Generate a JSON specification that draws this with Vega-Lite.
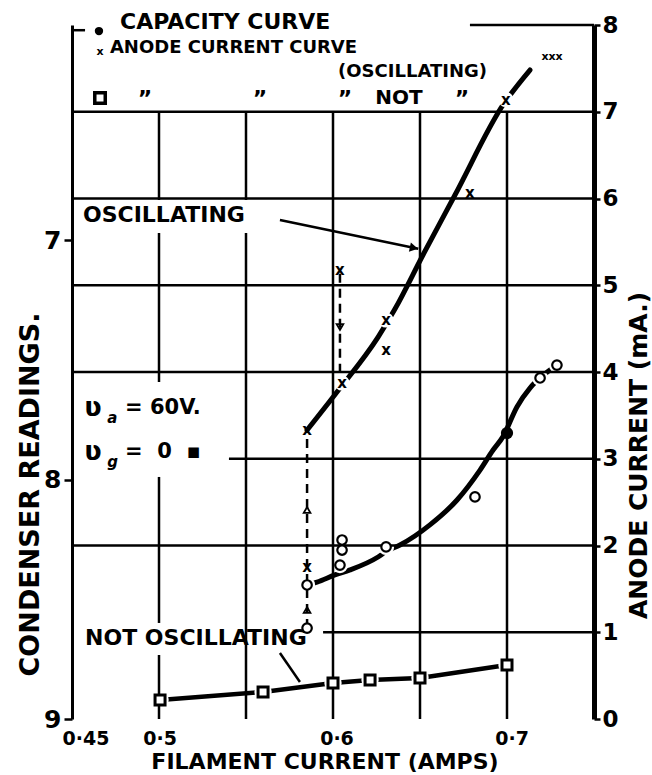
{
  "$schema": "https://vega.github.io/schema/vega-lite/v6.json",
  "width": 522,
  "height": 694,
  "autosize": {"type": "none"},
  "padding": {"left": 72, "top": 25, "right": 58, "bottom": 56},
  "background": "white",
  "config": {
    "view": {"stroke": null},
    "font": "DejaVu Sans",
    "axis": {"labelFont": "DejaVu Sans", "titleFont": "DejaVu Sans", "labelColor": "black", "titleColor": "black", "domainColor": "black", "tickColor": "black", "grid": false, "labelFontWeight": "bold", "titleFontWeight": "bold"}
  },
  "datasets": {
    "capLine": [
      {"x": 0.5851, "y": 8.44}, {"x": 0.5908, "y": 8.428}, {"x": 0.6011, "y": 8.398}, {"x": 0.6098, "y": 8.377},
      {"x": 0.6259, "y": 8.323}, {"x": 0.6305, "y": 8.3}, {"x": 0.6385, "y": 8.273}, {"x": 0.6557, "y": 8.189},
      {"x": 0.6713, "y": 8.085}, {"x": 0.6845, "y": 7.96}, {"x": 0.692, "y": 7.876}, {"x": 0.6977, "y": 7.82},
      {"x": 0.7057, "y": 7.696}, {"x": 0.7132, "y": 7.617}, {"x": 0.719, "y": 7.575}, {"x": 0.7247, "y": 7.542},
      {"x": 0.7287, "y": 7.521}
    ],
    "capPts": [
      {"x": 0.5851, "y": 8.62, "k": "n"}, {"x": 0.5851, "y": 8.44, "k": "o"}, {"x": 0.604, "y": 8.357, "k": "o"},
      {"x": 0.6052, "y": 8.294, "k": "o"}, {"x": 0.6052, "y": 8.252, "k": "o"}, {"x": 0.6305, "y": 8.281, "k": "o"},
      {"x": 0.6816, "y": 8.072, "k": "n"}, {"x": 0.7, "y": 7.805, "k": "f"}, {"x": 0.719, "y": 7.575, "k": "o"},
      {"x": 0.7287, "y": 7.521, "k": "o"}
    ],
    "oscLine": [
      {"x": 0.5851, "y": 3.331}, {"x": 0.6023, "y": 3.77}, {"x": 0.6259, "y": 4.403}, {"x": 0.6356, "y": 4.726},
      {"x": 0.6517, "y": 5.349}, {"x": 0.6701, "y": 6.04}, {"x": 0.6977, "y": 7.078}, {"x": 0.7132, "y": 7.481}
    ],
    "oscX": [
      {"x": 0.5851, "y": 3.331, "h": 0}, {"x": 0.6052, "y": 3.873, "h": 1}, {"x": 0.6305, "y": 4.599, "h": 1},
      {"x": 0.6305, "y": 4.254, "h": 0}, {"x": 0.6787, "y": 6.063, "h": 0}, {"x": 0.6994, "y": 7.141, "h": 1},
      {"x": 0.5851, "y": 1.752, "h": 0}, {"x": 0.604, "y": 5.176, "h": 0}
    ],
    "sq": [
      {"x": 0.5006, "y": 0.219}, {"x": 0.5598, "y": 0.311}, {"x": 0.6, "y": 0.415},
      {"x": 0.6213, "y": 0.45}, {"x": 0.65, "y": 0.473}, {"x": 0.7, "y": 0.622}
    ],
    "grid": [
      {"x": 0.45, "x2": 0.75, "y": 7, "y2": 7}, {"x": 0.45, "x2": 0.75, "y": 6, "y2": 6},
      {"x": 0.45, "x2": 0.75, "y": 5, "y2": 5}, {"x": 0.45, "x2": 0.75, "y": 4, "y2": 4},
      {"x": 0.5402, "x2": 0.75, "y": 3, "y2": 3}, {"x": 0.45, "x2": 0.75, "y": 2, "y2": 2},
      {"x": 0.5943, "x2": 0.75, "y": 1, "y2": 1}, {"x": 0.6787, "x2": 0.75, "y": 8, "y2": 8},
      {"x": 0.45, "x2": 0.4575, "y": 7.94, "y2": 7.94},
      {"x": 0.5, "x2": 0.5, "y": 7, "y2": 5.983}, {"x": 0.5, "x2": 0.5, "y": 5.602, "y2": 3.885},
      {"x": 0.5, "x2": 0.5, "y": 2.79, "y2": 1.107}, {"x": 0.5, "x2": 0.5, "y": 0.738, "y2": 0},
      {"x": 0.55, "x2": 0.55, "y": 7, "y2": 5.983}, {"x": 0.55, "x2": 0.55, "y": 5.602, "y2": 0},
      {"x": 0.6, "x2": 0.6, "y": 7, "y2": 0}, {"x": 0.65, "x2": 0.65, "y": 7, "y2": 0},
      {"x": 0.7, "x2": 0.7, "y": 7, "y2": 0}
    ],
    "vdash": [
      {"x": 0.5851, "x2": 0.5851, "y": 1.049, "y2": 3.331},
      {"x": 0.604, "x2": 0.604, "y": 3.99, "y2": 5.176}
    ],
    "pointers": [
      {"x": 0.5695, "x2": 0.649, "y": 5.752, "y2": 5.42},
      {"x": 0.5695, "x2": 0.581, "y": 0.761, "y2": 0.427}
    ],
    "arrUp": [{"x": 0.5851, "y": 2.409}, {"x": 0.5851, "y": 1.256}],
    "arrDown": [{"x": 0.604, "y": 4.519}],
    "arrHead": [{"x": 0.6465, "y": 5.43}],
    "bullet": [{"x": 0.4655, "y": 7.93}],
    "legSq": [{"x": 0.4661, "y": 7.159}],
    "tLeg1": [{"x": 0.4776, "y": 8.03, "t": "CAPACITY CURVE"}],
    "tLeg2": [
      {"x": 0.4718, "y": 7.73, "t": "ANODE CURRENT CURVE"},
      {"x": 0.6029, "y": 7.458, "t": "(OSCILLATING)"}
    ],
    "tSmallX": [{"x": 0.4661, "y": 7.689, "t": "x"}, {"x": 0.7259, "y": 7.631, "t": "xxx"}],
    "tNot": [{"x": 0.6379, "y": 7.159, "t": "NOT"}],
    "tDitto": [
      {"x": 0.492, "y": 7.15, "t": "\u201d"}, {"x": 0.558, "y": 7.15, "t": "\u201d"},
      {"x": 0.6069, "y": 7.15, "t": "\u201d"}, {"x": 0.6741, "y": 7.15, "t": "\u201d"}
    ],
    "tBig": [
      {"x": 0.4563, "y": 5.81, "t": "OSCILLATING"},
      {"x": 0.4575, "y": 0.934, "t": "NOT OSCILLATING"}
    ],
    "tV": [{"x": 0.4621, "y": 3.585, "t": "\u028b"}, {"x": 0.4621, "y": 3.078, "t": "\u028b"}],
    "tSub": [{"x": 0.4702, "y": 3.47, "t": "a"}, {"x": 0.4702, "y": 2.96, "t": "g"}],
    "tEq": [
      {"x": 0.4805, "y": 3.585, "t": "= 60V."},
      {"x": 0.4805, "y": 3.078, "t": "=\u00a0\u00a00\u00a0\u00a0\u25aa"}
    ],
    "xLab": [
      {"x": 0.458, "y": -0.23, "t": "0\u00b745"},
      {"x": 0.5006, "y": -0.23, "t": "0\u00b75"},
      {"x": 0.6023, "y": -0.23, "t": "0\u00b76"},
      {"x": 0.7029, "y": -0.23, "t": "0\u00b77"}
    ],
    "xTitle": [{"x": 0.5954, "y": -0.496, "t": "FILAMENT CURRENT (AMPS)"}]
  },
  "resolve": {"scale": {"y": "independent"}},
  "layer": [
    {
      "encoding": {
        "x": {"field": "x", "type": "quantitative", "scale": {"domain": [0.45, 0.75], "nice": false, "zero": false},
          "axis": {"orient": "bottom", "values": [0.45, 0.5, 0.6, 0.7], "tickSize": 0, "tickWidth": 0, "domainWidth": 3, "labels": false, "title": null}},
        "y": {"field": "y", "type": "quantitative", "scale": {"domain": [6.1, 9], "nice": false, "zero": false, "reverse": true},
          "axis": {"orient": "left", "values": [7, 8, 9], "format": "d", "tickSize": 8, "tickWidth": 2.5, "domainWidth": 3, "labelFontSize": 25, "labelPadding": 3, "title": "CONDENSER READINGS.", "titleFontSize": 27, "titleAngle": 270, "titleX": -42, "titleY": 469, "titleAlign": "center", "titleBaseline": "middle"}}
      },
      "layer": [
        {"data": {"name": "capLine"}, "mark": {"type": "line", "interpolate": "monotone", "color": "black", "strokeWidth": 5, "strokeCap": "round"}},
        {"data": {"name": "capPts"}, "transform": [{"filter": "datum.k == 'o'"}], "mark": {"type": "point", "shape": "circle", "filled": true, "color": "white", "opacity": 1, "size": 260}}
      ]
    },
    {
      "encoding": {
        "x": {"field": "x", "type": "quantitative", "scale": {"domain": [0.45, 0.75], "nice": false, "zero": false}, "axis": null},
        "y": {"field": "y", "type": "quantitative", "scale": {"domain": [0, 8], "nice": false, "zero": false},
          "axis": {"orient": "right", "values": [0, 1, 2, 3, 4, 5, 6, 7, 8], "tickSize": 6, "tickWidth": 2.5, "domainWidth": 5, "labelFontSize": 23, "labelPadding": 2, "title": "ANODE CURRENT (mA.)", "titleFontSize": 25, "titleAngle": 270, "titleX": 44, "titleY": 430, "titleAlign": "center", "titleBaseline": "middle"}}
      },
      "layer": [
        {"data": {"name": "oscLine"}, "mark": {"type": "line", "interpolate": "monotone", "color": "black", "strokeWidth": 5, "strokeCap": "round"}},
        {"data": {"name": "sq"}, "mark": {"type": "line", "color": "black", "strokeWidth": 4.5}},
        {"data": {"name": "oscX"}, "transform": [{"filter": "datum.h == 1"}], "mark": {"type": "point", "shape": "circle", "filled": true, "color": "white", "opacity": 1, "size": 230}},
        {"data": {"name": "sq"}, "mark": {"type": "point", "shape": "circle", "filled": true, "color": "white", "opacity": 1, "size": 300}},
        {"data": {"name": "grid"}, "mark": {"type": "rule", "color": "black", "strokeWidth": 2.5}, "encoding": {"x2": {"field": "x2"}, "y2": {"field": "y2"}}},
        {"data": {"name": "vdash"}, "mark": {"type": "rule", "color": "black", "strokeWidth": 2.5, "strokeDash": [9, 6]}, "encoding": {"x2": {"field": "x2"}, "y2": {"field": "y2"}}},
        {"data": {"name": "pointers"}, "mark": {"type": "rule", "color": "black", "strokeWidth": 2.5}, "encoding": {"x2": {"field": "x2"}, "y2": {"field": "y2"}}},
        {"data": {"name": "arrUp"}, "mark": {"type": "point", "shape": "triangle-up", "filled": false, "color": "black", "strokeWidth": 1.8, "size": 45, "opacity": 1}},
        {"data": {"name": "arrDown"}, "mark": {"type": "point", "shape": "triangle-down", "filled": false, "color": "black", "strokeWidth": 1.8, "size": 45, "opacity": 1}},
        {"data": {"name": "arrHead"}, "mark": {"type": "point", "shape": "triangle-right", "filled": true, "color": "black", "size": 90, "angle": 12, "opacity": 1}},
        {"data": {"name": "oscX"}, "mark": {"type": "text", "text": "x", "font": "DejaVu Sans", "fontWeight": "bold", "fontSize": 15, "align": "center", "baseline": "middle", "color": "black"}},
        {"data": {"name": "sq"}, "mark": {"type": "point", "shape": "square", "filled": true, "fill": "white", "stroke": "black", "strokeWidth": 3, "size": 100, "opacity": 1}},
        {"data": {"name": "legSq"}, "mark": {"type": "point", "shape": "square", "filled": true, "fill": "white", "stroke": "black", "strokeWidth": 3.5, "size": 110, "opacity": 1}},
        {"data": {"name": "bullet"}, "mark": {"type": "point", "shape": "circle", "filled": true, "color": "black", "size": 70, "opacity": 1}},
        {"data": {"name": "tLeg1"}, "mark": {"type": "text", "font": "DejaVu Sans", "fontWeight": "bold", "fontSize": 22, "align": "left", "baseline": "middle", "color": "black"}, "encoding": {"text": {"field": "t"}}},
        {"data": {"name": "tLeg2"}, "mark": {"type": "text", "font": "DejaVu Sans", "fontWeight": "bold", "fontSize": 18, "align": "left", "baseline": "middle", "color": "black"}, "encoding": {"text": {"field": "t"}}},
        {"data": {"name": "tSmallX"}, "mark": {"type": "text", "font": "DejaVu Sans", "fontWeight": "bold", "fontSize": 11, "align": "center", "baseline": "middle", "color": "black"}, "encoding": {"text": {"field": "t"}}},
        {"data": {"name": "tNot"}, "mark": {"type": "text", "font": "DejaVu Sans", "fontWeight": "bold", "fontSize": 20, "align": "center", "baseline": "middle", "color": "black"}, "encoding": {"text": {"field": "t"}}},
        {"data": {"name": "tDitto"}, "mark": {"type": "text", "font": "DejaVu Sans", "fontWeight": "bold", "fontSize": 22, "align": "center", "baseline": "middle", "color": "black"}, "encoding": {"text": {"field": "t"}}},
        {"data": {"name": "tBig"}, "mark": {"type": "text", "font": "DejaVu Sans", "fontWeight": "bold", "fontSize": 22, "align": "left", "baseline": "middle", "color": "black"}, "encoding": {"text": {"field": "t"}}},
        {"data": {"name": "tV"}, "mark": {"type": "text", "font": "DejaVu Sans", "fontWeight": "bold", "fontSize": 26, "align": "center", "baseline": "middle", "color": "black"}, "encoding": {"text": {"field": "t"}}},
        {"data": {"name": "tSub"}, "mark": {"type": "text", "font": "DejaVu Sans", "fontStyle": "italic", "fontWeight": "bold", "fontSize": 15, "align": "left", "baseline": "middle", "color": "black"}, "encoding": {"text": {"field": "t"}}},
        {"data": {"name": "tEq"}, "mark": {"type": "text", "font": "DejaVu Sans", "fontWeight": "bold", "fontSize": 21, "align": "left", "baseline": "middle", "color": "black"}, "encoding": {"text": {"field": "t"}}},
        {"data": {"name": "xLab"}, "mark": {"type": "text", "font": "DejaVu Sans", "fontWeight": "bold", "fontSize": 19, "align": "center", "baseline": "middle", "color": "black"}, "encoding": {"text": {"field": "t"}}},
        {"data": {"name": "xTitle"}, "mark": {"type": "text", "font": "DejaVu Sans", "fontWeight": "bold", "fontSize": 22, "align": "center", "baseline": "middle", "color": "black"}, "encoding": {"text": {"field": "t"}}}
      ]
    },
    {
      "encoding": {
        "x": {"field": "x", "type": "quantitative", "scale": {"domain": [0.45, 0.75], "nice": false, "zero": false}, "axis": null},
        "y": {"field": "y", "type": "quantitative", "scale": {"domain": [6.1, 9], "nice": false, "zero": false, "reverse": true}, "axis": null}
      },
      "layer": [
        {"data": {"name": "capPts"}, "transform": [{"filter": "datum.k != 'f'"}], "mark": {"type": "point", "shape": "circle", "filled": true, "fill": "white", "stroke": "black", "strokeWidth": 2.2, "size": 90, "opacity": 1}},
        {"data": {"name": "capPts"}, "transform": [{"filter": "datum.k == 'f'"}], "mark": {"type": "point", "shape": "circle", "filled": true, "color": "black", "size": 150, "opacity": 1}}
      ]
    }
  ]
}
